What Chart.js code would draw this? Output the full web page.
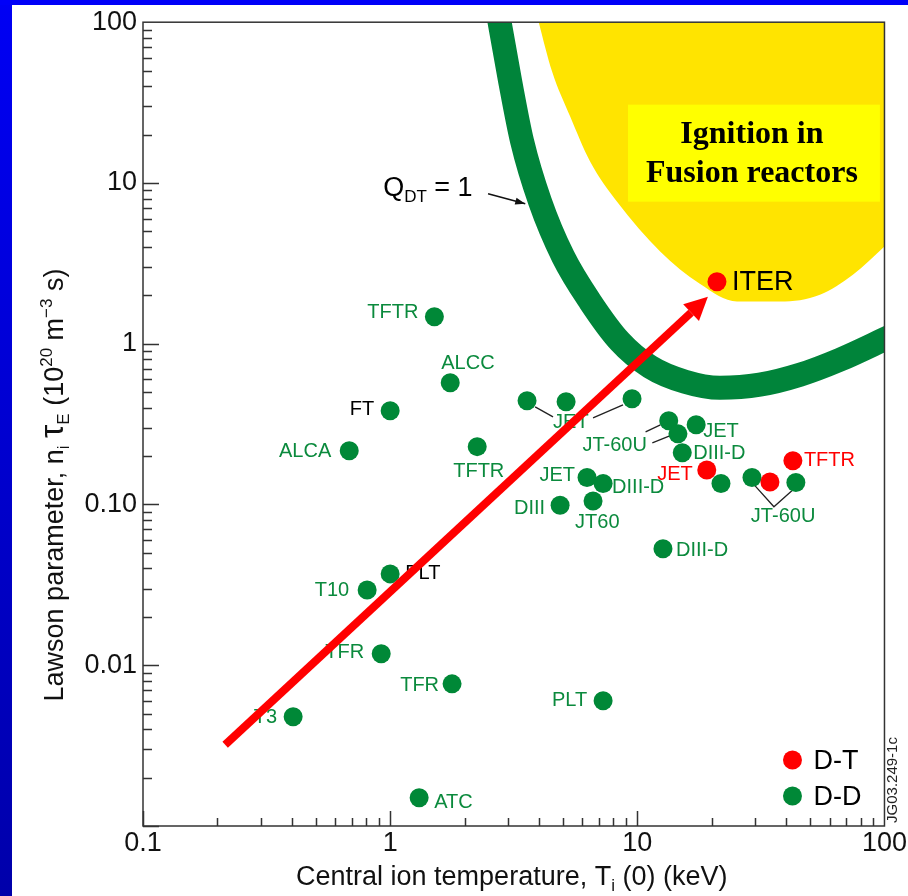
<!DOCTYPE html>
<html>
<head>
<meta charset="utf-8">
<script src="https://cdn.jsdelivr.net/npm/chart.js@4.4.1/dist/chart.umd.min.js"></script>
<style>
html, body { margin: 0; padding: 0; background: #fff; }
</style>
</head>
<body>
<canvas id="lawson" width="908" height="896"></canvas>
<script>

/* LAWSON DIAGRAM: n_i tau_E vs T_i(0) */

// D-D shots (green)
const ddNames = ['TFTR', 'ALCC', 'FT', 'ALCA', 'TFTR', '', 'JET', '', '', 'JT-60U', 'JET', 'DIII-D', 'JET', 'DIII-D',
                 'DIII', 'JT60', 'DIII-D', '', '', 'JT-60U', 'PLT', 'T10', 'TFR', 'TFR', 'T3', 'PLT', 'ATC'];
const ddTemp = [1.51, 1.75, 1.0, 0.683, 2.25, 3.58, 5.15, 9.52, 13.4, 14.6, 17.3, 15.2, 6.26, 7.27,
                4.87, 6.62, 12.7, 21.8, 29.1, 43.8, 1.0, 0.807, 0.92, 1.78, 0.405, 7.27, 1.31];
const ddLawson = [1.47, 0.572, 0.383, 0.216, 0.229, 0.442, 0.436, 0.455, 0.332, 0.275, 0.313, 0.21, 0.147, 0.135,
                  0.099, 0.105, 0.053, 0.135, 0.147, 0.137, 0.037, 0.0294, 0.0118, 0.00766, 0.00478, 0.00602, 0.0015];

// D-T shots (red) + ITER
const dtNames = ['JET', '', 'TFTR', 'ITER'];
const dtTemp = [19.1, 34.4, 42.6, 21.0];
const dtLawson = [0.164, 0.138, 0.187, 2.43];

// Q_DT = 1 band (centre line)
const qBandTemp = [2.68, 3.06, 3.42, 4.04, 5.01, 6.44, 8.51, 11.25, 15.6, 21.6, 31.3, 45.5, 66.0, 105];
const qBandLawson = [134, 42.7, 18.1, 7.65, 3.48, 1.83, 1.03, 0.719, 0.58, 0.532, 0.556, 0.641, 0.795, 1.105];

// ignition region, lower boundary
const ignTemp = [3.89, 4.52, 5.35, 6.44, 8.28, 12.4, 17.9, 25.3, 37.8, 54.8, 74.5, 105];
const ignLawson = [116, 49.3, 25.9, 13.6, 7.65, 3.74, 2.36, 1.83, 1.83, 2.02, 2.69, 4.31];

// progress arrow
const arrowTemp = [0.215, 16.5];
const arrowLawson = [0.0032, 1.56];
const arrowTip = [19.3, 1.96];

// pointer to the Q_DT band
const qPtrTemp = [2.49, 3.52];
const qPtrLawson = [8.58, 7.43];

// leader lines for grouped labels
const leaderTemp = [[3.86, 4.56], [6.62, 8.75], [10.8, 12.4], [11.5, 13.6], [29.9, 35.7, 42.2]];
const leaderLawson = [[0.405, 0.351], [0.346, 0.417], [0.283, 0.313], [0.242, 0.268], [0.131, 0.0968, 0.1217]];

// axis ticks
const xTickVals = [0.1, 1, 10, 100];
const xTickText = ['0.1', '1', '10', '100'];
const yTickVals = [0.01, 0.1, 1, 10, 100];
const yTickText = ['0.01', '0.10', '1', '10', '100'];

const legendNames = ['D-T', 'D-D'];

/* layout / style */
const SANS = '"Liberation Sans", Arial, Helvetica, sans-serif';
const SERIF = '"Liberation Serif", "Times New Roman", serif';
const GREEN = '#008837';
const LABEL_GREEN = '#0b8a3d';
const RED = '#ff0000';
const BAND = '#00843a';
const YELLOW = '#ffe400';

// [dx, dy, align, colour, size] from point centre
const ddLabelPos = [[-16, -5, 'right'], [-9, -20, 'left'], [-16, -2, 'right', '#000'], [-18, 0, 'right'], [-24, 24, 'left'],
  null, [-13, 20, 'left'], null, null, [-31, 11, 'right'], [7, 6, 'left'], [11, 0, 'left'], [-12, -3, 'right'], [9, 3, 'left'],
  [-15, 2, 'right'], [-18, 20, 'left'], [13, 1, 'left'], null, null, [-45, 33, 'left'], [15, -1, 'left', '#000'],
  [-18, 0, 'right'], [-17, -2, 'right'], [-13, 1, 'right'], [-16, 0, 'right'], [-16, -1, 'right'], [15, 4, 'left']];
const dtLabelPos = [[-14, 4, 'right', RED], null, [11, -1, 'left', RED], [15, 0, 'left', '#000', 27]];

const toXY = (xs, ys) => xs.map((v, i) => ({ x: v, y: ys[i] }));

function drawRich(c, segs, x, y, size, align) {
    const parts = segs.map(s => {
        const fs = (s.sub || s.sup) ? size * 0.63 : size * (s.big || 1);
        c.font = fs + 'px ' + SANS;
        return { t: s.t, fs: fs, w: c.measureText(s.t).width, dy: s.sub ? size * 0.22 : (s.sup ? -size * 0.4 : 0) };
    });
    const total = parts.reduce((a, p) => a + p.w, 0);
    let cx = align === 'center' ? x - total / 2 : x;
    c.textAlign = 'left';
    c.textBaseline = 'alphabetic';
    parts.forEach(p => {
        c.font = p.fs + 'px ' + SANS;
        c.fillText(p.t, cx, y + p.dy);
        cx += p.w;
    });
}

function drawHead(c, fx, fy, tx, ty, width, color) {
    const a = Math.atan2(ty - fy, tx - fx);
    const nx = -Math.sin(a), ny = Math.cos(a);
    c.fillStyle = color;
    c.beginPath();
    c.moveTo(tx, ty);
    c.lineTo(fx + nx * width / 2, fy + ny * width / 2);
    c.lineTo(fx - nx * width / 2, fy - ny * width / 2);
    c.closePath();
    c.fill();
}

function drawPointLabels(c, chart, id, names, pos, defColor) {
    const idx = chart.data.datasets.findIndex(d => d.id === id);
    const meta = chart.getDatasetMeta(idx);
    names.forEach((name, i) => {
        const p = pos[i];
        if (!name || !p) return;
        const el = meta.data[i];
        c.font = (p[4] || 20) + 'px ' + SANS;
        c.fillStyle = p[3] || defColor;
        c.textAlign = p[2];
        c.textBaseline = 'middle';
        c.fillText(name, el.x + p[0], el.y + p[1] + 1);
    });
}

const lawsonPlugin = {
    id: 'lawsonDecor',
    beforeDraw(chart) {
        const c = chart.ctx;
        c.save();
        c.fillStyle = '#fff';
        c.fillRect(0, 0, chart.width, chart.height);
        const g = c.createLinearGradient(0, 0, 0, chart.height);
        g.addColorStop(0, '#0000f4');
        g.addColorStop(1, '#0000aa');
        c.fillStyle = g;
        c.fillRect(0, 0, 12, chart.height);
        c.fillStyle = '#0000f8';
        c.fillRect(0, 0, chart.width, 5);
        c.restore();
    },
    afterDatasetDraw(chart, args) {
        const ds = chart.data.datasets[args.index];
        const c = chart.ctx;
        const xs = chart.scales.x, ys = chart.scales.y;
        c.save();
        if (ds.headTip) {
            const pts = args.meta.data;
            const last = pts[pts.length - 1];
            drawHead(c, last.x, last.y, xs.getPixelForValue(ds.headTip[0]), ys.getPixelForValue(ds.headTip[1]), ds.headWidth, ds.borderColor);
        }
        if (ds.headAtEnd) {
            const pts = args.meta.data;
            const a = pts[pts.length - 2], b = pts[pts.length - 1];
            const L = Math.hypot(b.x - a.x, b.y - a.y);
            const bx = b.x - (b.x - a.x) / L * ds.headLen, by = b.y - (b.y - a.y) / L * ds.headLen;
            drawHead(c, bx, by, b.x, b.y, ds.headWidth, ds.borderColor);
        }
        if (ds.id === 'dt') {
            // ignition box
            const x1 = xs.getPixelForValue(9.17), x2 = xs.getPixelForValue(95.8);
            const y1 = ys.getPixelForValue(30.7), y2 = ys.getPixelForValue(7.65);
            c.fillStyle = '#ffff00';
            c.fillRect(x1, y1, x2 - x1, y2 - y1);
            c.fillStyle = '#000';
            c.font = 'bold 32px ' + SERIF;
            c.textAlign = 'center';
            c.textBaseline = 'middle';
            c.fillText('Ignition in', (x1 + x2) / 2 - 2, (y1 + y2) / 2 - 18);
            c.fillText('Fusion reactors', (x1 + x2) / 2 - 2, (y1 + y2) / 2 + 21);

            drawPointLabels(c, chart, 'dd', ddNames, ddLabelPos, LABEL_GREEN);
            drawPointLabels(c, chart, 'dt', dtNames, dtLabelPos, RED);

            // Q_DT = 1
            c.fillStyle = '#000';
            drawRich(c, [{ t: 'Q' }, { t: 'DT', sub: true }, { t: ' = 1' }],
                xs.getPixelForValue(0.937), ys.getPixelForValue(9.48) + 9, 27, 'left');
        }
        c.restore();
    },
    afterDraw(chart) {
        const c = chart.ctx;
        const a = chart.chartArea;
        const xs = chart.scales.x, ys = chart.scales.y;
        c.save();
        // frame
        c.strokeStyle = '#333';
        c.lineWidth = 1.5;
        c.strokeRect(a.left, a.top, a.right - a.left, a.bottom - a.top);
        // inward ticks
        c.beginPath();
        for (let n = -3; n <= 1; n++) {
            for (let k = 1; k <= 9; k++) {
                const py = Math.round(ys.getPixelForValue(k * Math.pow(10, n))) + 0.5;
                c.moveTo(a.left, py);
                c.lineTo(a.left + (k === 1 ? 16 : 9), py);
            }
        }
        for (let n = -1; n <= 1; n++) {
            for (let k = 1; k <= 9; k++) {
                const px = Math.round(xs.getPixelForValue(k * Math.pow(10, n))) + 0.5;
                c.moveTo(px, a.bottom);
                c.lineTo(px, a.bottom - (k === 1 ? 15 : 8));
            }
        }
        c.stroke();

        // axis titles
        c.fillStyle = '#111';
        drawRich(c, [{ t: 'Central ion temperature, T' }, { t: 'i', sub: true }, { t: ' (0) (keV)' }],
            (a.left + a.right) / 2 - 2, a.bottom + 59, 27, 'center');
        c.save();
        c.translate(53, 485);
        c.rotate(-Math.PI / 2);
        drawRich(c, [{ t: 'Lawson parameter, n' }, { t: 'i', sub: true }, { t: ' ' }, { t: '\u03c4', big: 1.25 },
            { t: 'E', sub: true }, { t: ' (10' }, { t: '20', sup: true }, { t: ' m' }, { t: '\u22123', sup: true }, { t: ' s)' }],
            0, 10, 27, 'center');
        c.restore();

        // legend
        const lx = a.right - 92;
        [[RED, a.bottom - 66], [GREEN, a.bottom - 30]].forEach((e, i) => {
            c.fillStyle = e[0];
            c.beginPath();
            c.arc(lx, e[1], 9.5, 0, Math.PI * 2);
            c.fill();
            c.fillStyle = '#000';
            c.font = '27px ' + SANS;
            c.textAlign = 'left';
            c.textBaseline = 'middle';
            c.fillText(legendNames[i], lx + 21, e[1] + 2);
        });

        // figure id
        c.save();
        c.translate(a.right + 8, a.bottom - 46);
        c.rotate(-Math.PI / 2);
        c.font = '15px ' + SANS;
        c.fillStyle = '#222';
        c.textAlign = 'center';
        c.textBaseline = 'middle';
        c.fillText('JG03.249-1c', 0, 0);
        c.restore();
        c.restore();
    }
};

Chart.defaults.font.family = SANS;

const ctx_lawson = document.getElementById('lawson').getContext('2d');
const lawsonChart = new Chart(ctx_lawson, {
    type: 'scatter',
    data: {
        datasets: [{
            id: 'ignition',
            type: 'line',
            data: toXY(ignTemp, ignLawson),
            borderWidth: 0,
            backgroundColor: YELLOW,
            fill: 'end',
            pointRadius: 0,
            cubicInterpolationMode: 'monotone',
            clip: 0,
            order: 9
        }, {
            id: 'qband',
            type: 'line',
            data: toXY(qBandTemp, qBandLawson),
            borderColor: BAND,
            borderWidth: 24,
            fill: false,
            pointRadius: 0,
            cubicInterpolationMode: 'monotone',
            clip: 0,
            order: 8
        }, ...leaderTemp.map((seg, i) => ({
            id: 'leader' + i,
            type: 'line',
            data: toXY(seg, leaderLawson[i]),
            borderColor: '#222',
            borderWidth: 1.3,
            fill: false,
            pointRadius: 0,
            tension: 0,
            order: 7
        })), {
            id: 'qptr',
            type: 'line',
            data: toXY(qPtrTemp, qPtrLawson),
            borderColor: '#111',
            borderWidth: 1.5,
            fill: false,
            pointRadius: 0,
            headAtEnd: true,
            headLen: 10,
            headWidth: 7,
            order: 7
        }, {
            id: 'dd',
            label: 'D-D',
            data: toXY(ddTemp, ddLawson),
            backgroundColor: GREEN,
            borderWidth: 0,
            pointRadius: 9.5,
            order: 3
        }, {
            id: 'dt',
            label: 'D-T',
            data: toXY(dtTemp, dtLawson),
            backgroundColor: RED,
            borderWidth: 0,
            pointRadius: 9.5,
            order: 2
        }, {
            id: 'arrow',
            type: 'line',
            data: toXY(arrowTemp, arrowLawson),
            borderColor: RED,
            borderWidth: 8,
            borderCapStyle: 'butt',
            fill: false,
            pointRadius: 0,
            headTip: arrowTip,
            headWidth: 23,
            clip: 0,
            order: 1
        }]
    },
    options: {
        responsive: false,
        animation: false,
        events: [],
        layout: { padding: { top: 22, right: 23, left: 0, bottom: 0 } },
        plugins: {
            legend: { display: false },
            tooltip: { enabled: false }
        },
        scales: {
            x: {
                type: 'logarithmic',
                min: 0.1,
                max: 100,
                grid: { display: false, drawTicks: false },
                border: { display: false },
                afterBuildTicks: s => { s.ticks = xTickVals.map(v => ({ value: v, major: true })); },
                afterFit: s => { s.height = 70; },
                ticks: {
                    color: '#111',
                    font: { size: 27 },
                    padding: 1,
                    autoSkip: false,
                    maxRotation: 0,
                    callback: (v, i) => xTickText[i]
                }
            },
            y: {
                type: 'logarithmic',
                min: 0.001,
                max: 100,
                grid: { display: false, drawTicks: false },
                border: { display: false },
                afterBuildTicks: s => { s.ticks = yTickVals.map(v => ({ value: v, major: true })); },
                afterFit: s => { s.width = 143; },
                ticks: {
                    color: '#111',
                    font: { size: 27 },
                    padding: 6,
                    autoSkip: false,
                    callback: (v, i) => yTickText[i]
                }
            }
        }
    },
    plugins: [lawsonPlugin]
});

</script>
</body>
</html>
